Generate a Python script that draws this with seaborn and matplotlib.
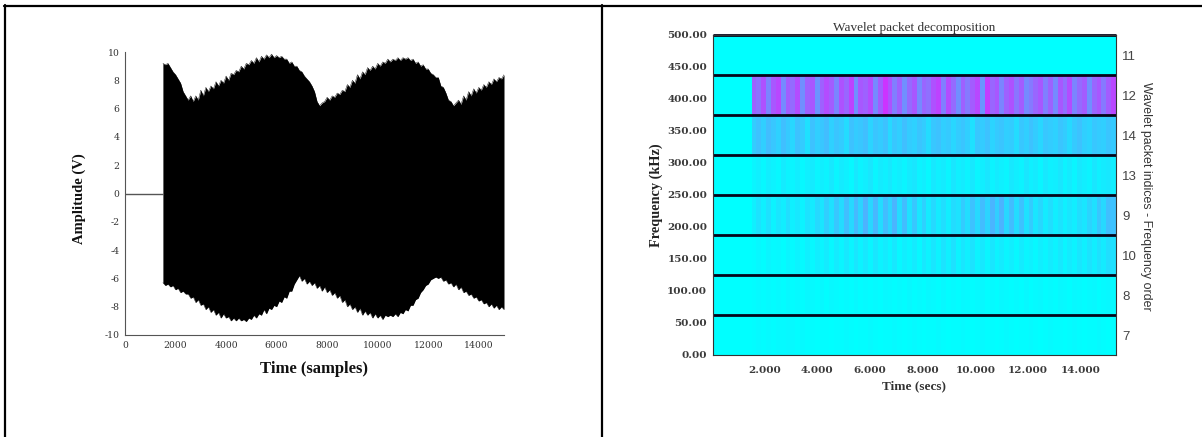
import matplotlib
matplotlib.use("Agg")
import matplotlib.pyplot as plt
from matplotlib.lines import Line2D
import seaborn as sns
import pandas as pd

W, H = 1202, 437

# left panel: signal envelope, one value per 100 samples from 1500
env_time = list(range(1500, 15001, 100))
env_upper = [9.2, 9.1, 9.2, 8.9, 8.6, 8.4, 8.1, 7.8, 7.2, 6.9,
             6.6, 6.9, 6.5, 6.9, 6.6, 7.3, 6.9, 7.5, 7.2, 7.6,
             7.4, 7.9, 7.6, 8.0, 7.8, 8.3, 8.0, 8.5, 8.4, 8.7,
             8.6, 9.0, 8.8, 9.2, 9.1, 9.4, 9.2, 9.6, 9.3, 9.7,
             9.5, 9.8, 9.6, 9.85, 9.6, 9.75, 9.6, 9.7, 9.5, 9.5,
             9.2, 9.3, 9.0, 9.0, 8.7, 8.6, 8.3, 8.1, 7.9, 7.6,
             7.2, 6.5, 6.2, 6.4, 6.5, 6.8, 6.6, 6.9, 6.8, 7.1,
             7.0, 7.3, 7.2, 7.7, 7.5, 8.0, 7.8, 8.4, 8.1, 8.6,
             8.4, 8.9, 8.7, 9.0, 8.8, 9.2, 9.0, 9.3, 9.2, 9.5,
             9.3, 9.5, 9.4, 9.6, 9.4, 9.6, 9.5, 9.6, 9.4, 9.5,
             9.2, 9.3, 9.0, 9.1, 8.8, 8.8, 8.5, 8.4, 8.2, 8.2,
             7.6, 7.5, 7.1, 6.6, 6.5, 6.2, 6.4, 6.6, 6.3, 6.9,
             6.6, 7.2, 6.9, 7.4, 7.1, 7.5, 7.3, 7.7, 7.5, 7.9,
             7.7, 8.1, 7.9, 8.2, 8.1, 8.4]
env_lower = [-6.3, -6.5, -6.4, -6.6, -6.5, -6.8, -6.7, -7.0, -6.9, -7.1,
             -7.1, -7.4, -7.3, -7.7, -7.5, -7.9, -7.8, -8.2, -8.0, -8.4,
             -8.2, -8.6, -8.4, -8.8, -8.5, -8.8, -8.7, -9.0, -8.8, -9.0,
             -8.8, -9.0, -8.9, -9.05, -8.8, -8.9, -8.6, -8.8, -8.5, -8.6,
             -8.2, -8.5, -8.1, -8.2, -7.9, -8.0, -7.6, -7.7, -7.3, -7.4,
             -6.9, -6.9, -6.4, -6.1, -5.8, -6.2, -6.0, -6.4, -6.2, -6.5,
             -6.3, -6.7, -6.5, -6.9, -6.6, -7.0, -6.8, -7.2, -7.0, -7.4,
             -7.2, -7.7, -7.5, -8.0, -7.8, -8.2, -8.0, -8.4, -8.1, -8.6,
             -8.3, -8.6, -8.4, -8.8, -8.5, -8.8, -8.6, -8.9, -8.6, -8.7,
             -8.6, -8.7, -8.5, -8.7, -8.4, -8.5, -8.2, -8.3, -7.9, -7.9,
             -7.5, -7.4, -7.0, -6.8, -6.5, -6.4, -6.1, -6.0, -5.9, -6.0,
             -5.9, -6.2, -6.1, -6.4, -6.3, -6.6, -6.4, -6.8, -6.6, -7.0,
             -6.9, -7.2, -7.1, -7.4, -7.3, -7.6, -7.5, -7.8, -7.7, -8.0,
             -7.8, -8.1, -7.9, -8.2, -8.0, -8.2]
baseline_time = [0, 1500]
baseline_value = [0, 0]
left_xticks = [0, 2000, 4000, 6000, 8000, 10000, 12000, 14000]
left_yticks = [-10, -8, -6, -4, -2, 0, 2, 4, 6, 8, 10]

# right panel: band energy per time column, top band first
band_indices = [11, 12, 14, 13, 9, 10, 8, 7]
quiet = [0.0] * 8
band_11 = quiet + [0.0] * 75
band_12 = quiet + [0.62, 0.56, 0.68, 0.48, 0.66, 0.72, 0.46, 0.64, 0.58, 0.70, 0.44, 0.62, 0.66, 0.42, 0.62,
                   0.70, 0.64, 0.48, 0.68, 0.60, 0.74, 0.44, 0.66, 0.62, 0.70, 0.46, 0.64, 0.80, 0.68, 0.50,
                   0.62, 0.44, 0.58, 0.66, 0.46, 0.60, 0.56, 0.68, 0.74, 0.50, 0.70, 0.58, 0.44, 0.62, 0.52,
                   0.64, 0.72, 0.42, 0.76, 0.60, 0.66, 0.48, 0.62, 0.68, 0.54, 0.64, 0.46, 0.52, 0.60, 0.66,
                   0.50, 0.62, 0.46, 0.66, 0.56, 0.70, 0.48, 0.58, 0.64, 0.44, 0.60, 0.66, 0.52, 0.64, 0.72]
band_14 = quiet + [0.20, 0.24, 0.19, 0.26, 0.22, 0.18, 0.25, 0.21, 0.16, 0.24, 0.20, 0.12, 0.24, 0.19, 0.22,
                   0.26, 0.18, 0.23, 0.20, 0.14, 0.24, 0.20, 0.22, 0.25, 0.17, 0.23, 0.20, 0.24, 0.15, 0.22,
                   0.19, 0.25, 0.20, 0.18, 0.23, 0.20, 0.14, 0.22, 0.24, 0.19, 0.21, 0.16, 0.20, 0.23, 0.19,
                   0.12, 0.22, 0.20, 0.24, 0.17, 0.21, 0.23, 0.19, 0.20, 0.14, 0.22, 0.19, 0.24, 0.20, 0.16,
                   0.22, 0.20, 0.18, 0.23, 0.20, 0.15, 0.21, 0.24, 0.19, 0.17, 0.22, 0.20, 0.19, 0.23, 0.21]
band_13 = quiet + [0.04, 0.06, 0.03, 0.07, 0.05, 0.03, 0.08, 0.05, 0.04, 0.07, 0.03, 0.06, 0.08, 0.04, 0.07,
                   0.05, 0.09, 0.04, 0.08, 0.06, 0.03, 0.09, 0.05, 0.07, 0.10, 0.04, 0.08, 0.06, 0.09, 0.05,
                   0.07, 0.04, 0.08, 0.10, 0.05, 0.07, 0.03, 0.09, 0.06, 0.08, 0.04, 0.10, 0.06, 0.08, 0.05,
                   0.09, 0.04, 0.07, 0.10, 0.05, 0.08, 0.06, 0.04, 0.09, 0.07, 0.05, 0.10, 0.06, 0.08, 0.04,
                   0.09, 0.06, 0.07, 0.10, 0.05, 0.08, 0.04, 0.09, 0.07, 0.05, 0.10, 0.06, 0.08, 0.09, 0.07]
band_9 = quiet + [0.06, 0.11, 0.06, 0.12, 0.05, 0.10, 0.07, 0.13, 0.06, 0.09, 0.05, 0.11, 0.08, 0.15, 0.10,
                  0.19, 0.12, 0.22, 0.14, 0.25, 0.15, 0.27, 0.17, 0.30, 0.16, 0.28, 0.14, 0.26, 0.17, 0.29,
                  0.14, 0.26, 0.12, 0.22, 0.10, 0.18, 0.08, 0.15, 0.08, 0.13, 0.07, 0.14, 0.11, 0.20, 0.13,
                  0.24, 0.15, 0.26, 0.17, 0.29, 0.19, 0.30, 0.16, 0.26, 0.14, 0.24, 0.12, 0.20, 0.10, 0.16,
                  0.08, 0.13, 0.07, 0.11, 0.06, 0.10, 0.07, 0.13, 0.10, 0.17, 0.12, 0.22, 0.15, 0.25, 0.24]
band_10 = quiet + [0.01, 0.03, 0.01, 0.04, 0.02, 0.03, 0.01, 0.04, 0.02, 0.05, 0.02, 0.06, 0.03, 0.07, 0.04,
                   0.08, 0.03, 0.08, 0.04, 0.09, 0.04, 0.10, 0.05, 0.09, 0.04, 0.10, 0.05, 0.08, 0.04, 0.09,
                   0.03, 0.07, 0.04, 0.08, 0.03, 0.09, 0.05, 0.10, 0.05, 0.11, 0.06, 0.12, 0.05, 0.10, 0.06,
                   0.11, 0.05, 0.09, 0.04, 0.10, 0.05, 0.08, 0.04, 0.07, 0.03, 0.08, 0.04, 0.06, 0.03, 0.07,
                   0.04, 0.08, 0.05, 0.09, 0.04, 0.08, 0.05, 0.10, 0.06, 0.11, 0.07, 0.12, 0.08, 0.13, 0.12]
band_8 = quiet + [0.01, 0.02, 0.01, 0.02, 0.01, 0.02, 0.01, 0.03, 0.01, 0.02, 0.01, 0.03, 0.02, 0.01, 0.03,
                  0.01, 0.03, 0.02, 0.01, 0.02, 0.01, 0.03, 0.01, 0.02, 0.01, 0.02, 0.01, 0.03, 0.02, 0.01,
                  0.02, 0.01, 0.03, 0.01, 0.02, 0.01, 0.03, 0.02, 0.01, 0.03, 0.01, 0.02, 0.01, 0.03, 0.02,
                  0.01, 0.02, 0.03, 0.01, 0.02, 0.01, 0.03, 0.02, 0.01, 0.02, 0.01, 0.03, 0.01, 0.02, 0.03,
                  0.01, 0.02, 0.01, 0.03, 0.02, 0.01, 0.03, 0.02, 0.01, 0.02, 0.03, 0.01, 0.02, 0.03, 0.02]
band_7 = quiet + [0.01, 0.02, 0.01, 0.02, 0.01, 0.02, 0.02, 0.03, 0.02, 0.01, 0.02, 0.01, 0.01, 0.00, 0.01,
                  0.01, 0.00, 0.01, 0.01, 0.02, 0.01, 0.00, 0.01, 0.01, 0.02, 0.01, 0.00, 0.01, 0.01, 0.02,
                  0.01, 0.00, 0.01, 0.02, 0.01, 0.00, 0.01, 0.01, 0.02, 0.01, 0.00, 0.01, 0.01, 0.02, 0.01,
                  0.00, 0.01, 0.02, 0.01, 0.01, 0.00, 0.01, 0.02, 0.01, 0.00, 0.01, 0.01, 0.02, 0.01, 0.00,
                  0.01, 0.02, 0.01, 0.01, 0.00, 0.01, 0.02, 0.01, 0.00, 0.01, 0.01, 0.02, 0.01, 0.00, 0.01]
freq_ticks = [0, 50, 100, 150, 200, 250, 300, 350, 400, 450, 500]
freq_edges = [62.5, 125, 187.5, 250, 312.5, 375, 437.5, 500]
time_ticks = [2, 4, 6, 8, 10, 12, 14]
t_min, t_max = 0.02, 15.35
f_max = 500


def axes_box(x0, y0, x1, y1):
    # pixel box to figure fractions
    return [x0 / W, 1 - y1 / H, (x1 - x0) / W, (y1 - y0) / H]


def label(x, y, s, **kw):
    fig.text(x / W, 1 - y / H, s, ha="center", va="center", **kw)


sns.set_style("white")
plt.rcParams["axes.unicode_minus"] = False
fig = plt.figure(figsize=(W / 100, H / 100), dpi=100, facecolor="white")

# panel borders
for xs, ys in [((4, W), (5.5, 5.5)), ((5, 5), (5, H)), ((602, 602), (5, H))]:
    fig.add_artist(Line2D([x / W for x in xs], [1 - y / H for y in ys], color="black", lw=1.6))

# left panel
ax1 = fig.add_axes(axes_box(125, 52, 504, 335))
ax1.fill_between(env_time, env_lower, env_upper, color="black", lw=0)
sns.lineplot(x=env_time, y=env_upper, color="black", lw=0.3, ax=ax1)
sns.lineplot(x=env_time, y=env_lower, color="black", lw=0.3, ax=ax1)
sns.lineplot(x=baseline_time, y=baseline_value, color="#555555", lw=1, ax=ax1)
ax1.set_xlim(0, 15000)
ax1.set_ylim(-10, 10)
ax1.set_xticks(left_xticks)
ax1.set_yticks(left_yticks)
ax1.tick_params(length=0, pad=4, labelsize=6.7, labelcolor="#333333")
for t in ax1.get_xticklabels() + ax1.get_yticklabels():
    t.set_family("DejaVu Serif")
sns.despine(ax=ax1)
for side in ["left", "bottom"]:
    ax1.spines[side].set_color("#555555")
    ax1.spines[side].set_linewidth(0.8)
label(314, 369, "Time (samples)", family="Liberation Serif", weight="bold", size=12, color="#111111")
label(79, 199, "Amplitude (V)", family="Liberation Serif", weight="bold", size=10.5, rotation=90, color="#111111")

# right panel
df = pd.DataFrame([band_11, band_12, band_14, band_13, band_9, band_10, band_8, band_7], index=band_indices)
n_cols = df.shape[1]
n_rows = df.shape[0]
ax2 = fig.add_axes(axes_box(712.7, 35, 1116, 355))
sns.heatmap(df, cmap="cool", vmin=0, vmax=1, cbar=False, xticklabels=False, yticklabels=False, ax=ax2)
ax2.hlines([(f_max - f) / f_max * n_rows for f in freq_edges], 0, n_cols, color="#05051a", lw=2.0, clip_on=False)

ax2.set_xticks([(t - t_min) / (t_max - t_min) * n_cols for t in time_ticks])
ax2.set_xticklabels([f"{t:.3f}" for t in time_ticks], rotation=0)
ax2.set_yticks([(f_max - f) / f_max * n_rows for f in freq_ticks])
ax2.set_yticklabels([f"{f:.2f}" for f in freq_ticks], rotation=0)
ax2.tick_params(axis="both", direction="in", length=3, width=0.6, color="#333333", labelsize=7.5,
                labelcolor="#3a3a3a", pad=4, top=True, right=True, bottom=True, left=True)
ax2.tick_params(axis="x", pad=8)
for t in ax2.get_xticklabels() + ax2.get_yticklabels():
    t.set_family("DejaVu Serif")
    t.set_weight("bold")
for spine in ax2.spines.values():
    spine.set_visible(True)
    spine.set_color("#333333")
    spine.set_linewidth(0.8)

twin = ax2.twinx()
twin.set_ylim(ax2.get_ylim())
twin.set_yticks([i + 0.5 for i in range(n_rows)])
twin.set_yticklabels(band_indices, family="Liberation Sans", size=9.5, color="#444444")
twin.tick_params(axis="y", length=0, pad=4.5)
twin.grid(False)
for spine in twin.spines.values():
    spine.set_visible(False)

label(914, 28, "Wavelet packet decomposition", family="Liberation Serif", size=9.5, color="#333333")
label(914, 386, "Time (secs)", family="Liberation Serif", weight="bold", size=9.5, color="#333333")
label(656, 195, "Frequency (kHz)", family="Liberation Serif", weight="bold", size=10.3, rotation=90, color="#222222")
label(1146, 196, "Wavelet packet indices - Frequency order", family="Liberation Sans", size=8.9,
      rotation=270, color="#333333")

fig.savefig("out.png", dpi=100)
